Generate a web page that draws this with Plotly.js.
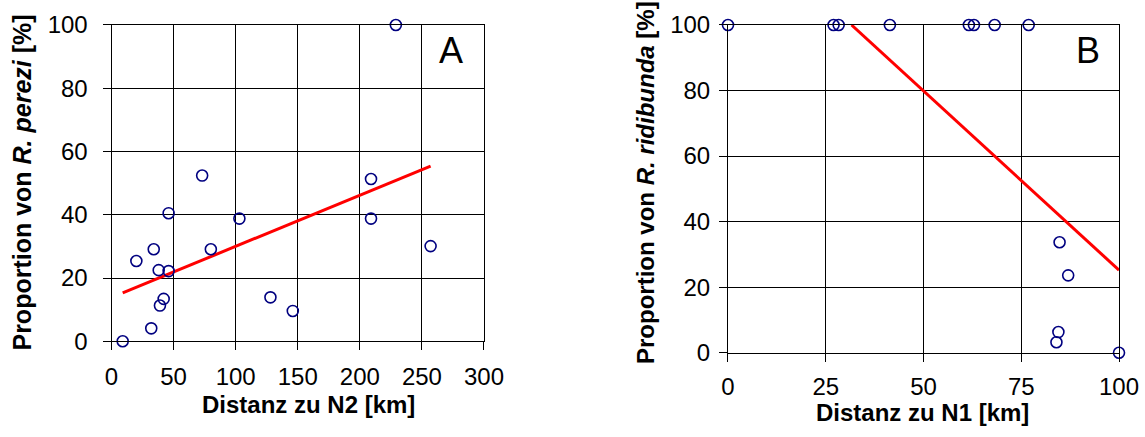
<!DOCTYPE html>
<html><head><meta charset="utf-8">
<script src="https://cdn.plot.ly/plotly-3.0.1.min.js"></script>
<style>html,body{margin:0;padding:0;background:#fff}#chart{width:1145px;height:437px}</style>
</head><body><div id="chart"></div>
<script>
// Panel A: distance to N2 vs proportion of R. perezi
const distN2 = [9, 32, 39, 42, 38, 46, 34, 20, 46, 73, 80, 103, 128, 146, 209, 209, 257, 229];
const perezi = [0, 4.1, 11.3, 13.4, 22.5, 22.2, 29.1, 25.4, 40.5, 52.4, 29.1, 38.8, 13.9, 9.6, 51.3, 38.8, 30.1, 100];
const trendAx = [9, 257];
const trendAy = [15.3, 55.4];
// Panel B: distance to N1 vs proportion of R. ridibunda
const distN1 = [0, 27, 28.3, 41.4, 61.6, 62.9, 68.2, 76.9, 84.8, 87, 84.5, 84, 100];
const ridibunda = [100, 100, 100, 100, 100, 100, 100, 100, 33.7, 23.6, 6.3, 3.2, 0];
const trendBx = [31.6, 100];
const trendBy = [100, 25.2];
// ticks and labels
const xTicksA = [0, 50, 100, 150, 200, 250, 300];
const xTicksB = [0, 25, 50, 75, 100];
const yTicks = [0, 20, 40, 60, 80, 100];
const xTitleA = 'Distanz zu N2 [km]';
const xTitleB = 'Distanz zu N1 [km]';
const yTitleA = 'Proportion von <i>R. perezi</i> [%]';
const yTitleB = 'Proportion von <i>R. ridibunda</i> [%]';
const panelLabels = ['A', 'B'];

const FONT = 'Arial, "Liberation Sans", sans-serif';
const markerStyle = {symbol: 'circle-open', size: 11, color: '#000080', line: {width: 1.6, color: '#000080'}};
const lineStyle = {color: '#ff0000', width: 3};

const traces = [
  {x: trendAx, y: trendAy, mode: 'lines', line: lineStyle, xaxis: 'x', yaxis: 'y', hoverinfo: 'skip'},
  {x: distN2, y: perezi, mode: 'markers', marker: markerStyle, xaxis: 'x', yaxis: 'y', cliponaxis: false},
  {x: trendBx, y: trendBy, mode: 'lines', line: lineStyle, xaxis: 'x2', yaxis: 'y2', hoverinfo: 'skip'},
  {x: distN1, y: ridibunda, mode: 'markers', marker: markerStyle, xaxis: 'x2', yaxis: 'y2', cliponaxis: false}
];

function axis(extra) {
  return Object.assign({
    showline: true, mirror: true, linecolor: '#000', linewidth: 1,
    showgrid: true, gridcolor: '#000', gridwidth: 1, zeroline: false,
    ticks: 'outside', ticklen: 8, tickcolor: '#000', tickwidth: 1,
    tickfont: {family: FONT, size: 24, color: '#000'},
    tickmode: 'array', automargin: false, fixedrange: true
  }, extra);
}
function titleNote(text, x, y, angle, size) {
  return {text: text, xref: 'paper', yref: 'paper', x: x, y: y, xanchor: 'center', yanchor: 'middle',
    textangle: angle, showarrow: false, font: {family: FONT, size: size, color: '#000', weight: 'bold'}};
}
function panelNote(text, x) {
  return {text: text, xref: 'paper', yref: 'paper', x: x, y: 0.8838, xanchor: 'center', yanchor: 'middle',
    showarrow: false, font: {family: FONT, size: 36, color: '#000'}};
}

const layout = {
  width: 1145, height: 437,
  margin: {l: 0, r: 0, t: 0, b: 0, pad: 0},
  paper_bgcolor: '#fff', plot_bgcolor: '#fff',
  showlegend: false,
  font: {family: FONT, color: '#000'},
  xaxis: axis({domain: [0.0974, 0.4227], range: [0, 300], tickvals: xTicksA, ticktext: xTicksA.map(String), anchor: 'y', ticklabelstandoff: 6}),
  yaxis: axis({domain: [0.2190, 0.9428], range: [0, 100], tickvals: yTicks, ticktext: yTicks.map(String), anchor: 'x', ticklabelstandoff: 10}),
  xaxis2: axis({domain: [0.6358, 0.9773], range: [0, 100], tickvals: xTicksB, ticktext: xTicksB.map(String), anchor: 'y2', ticklabelstandoff: 4}),
  yaxis2: axis({domain: [0.1929, 0.9428], range: [0, 100], tickvals: yTicks, ticktext: yTicks.map(String), anchor: 'x2', ticklabelstandoff: 4}),
  annotations: [
    titleNote(xTitleA, 0.2694, 0.0740, 0, 24),
    titleNote(xTitleB, 0.8061, 0.0570, 0, 24),
    titleNote(yTitleA, 0.0188, 0.5812, -90, 25),
    titleNote(yTitleB, 0.5631, 0.5830, -90, 24),
    panelNote(panelLabels[0], 0.3939),
    panelNote(panelLabels[1], 0.9498)
  ]
};

Plotly.newPlot('chart', traces, layout, {staticPlot: true, displayModeBar: false});
</script>
</body></html>
